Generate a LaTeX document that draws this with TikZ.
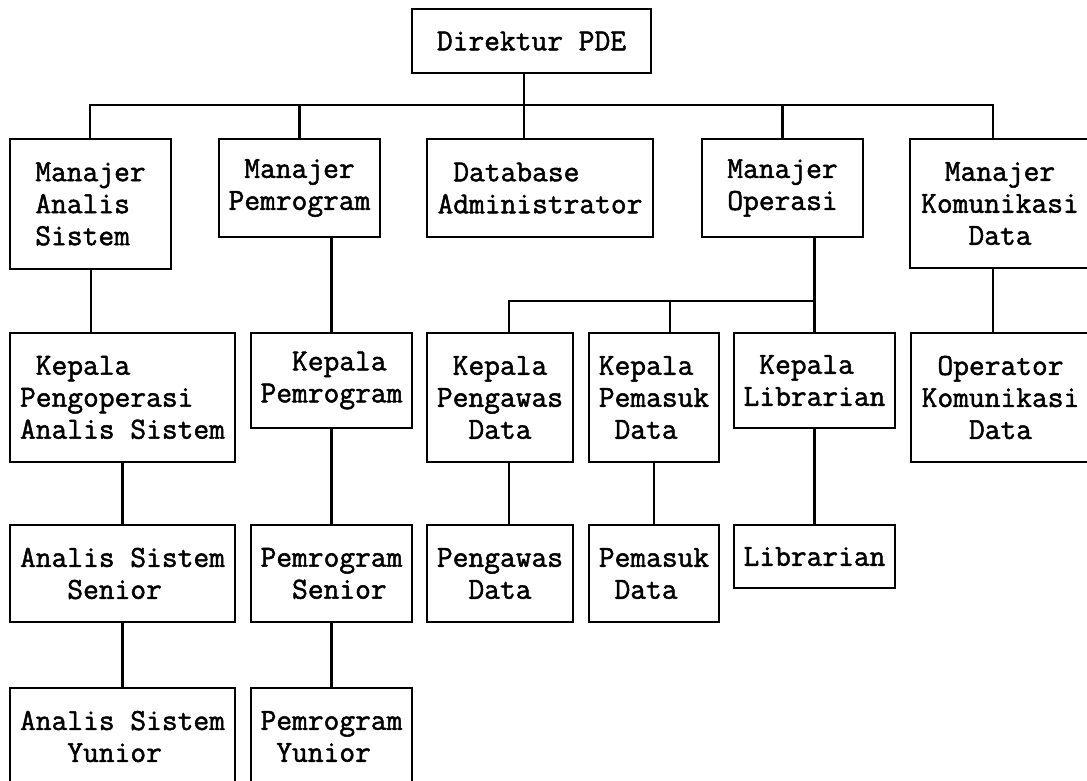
\documentclass[tikz,border=0pt]{standalone}
\usepackage{fontspec}
\newfontfamily\boxfont{Latin Modern Mono}[FakeBold=1.6]
\newcommand{\ind}[1]{\phantom{#1}}
\begin{document}
\begin{tikzpicture}[x=1pt,y=-1pt,
  box/.style={draw, line width=2.6pt, inner sep=0pt,
    font=\boxfont\fontsize{30.6}{32}\selectfont},
  link/.style={line width=2.6pt},
]
\useasboundingbox (0,0) rectangle (1087,780);

% top
\node[box, minimum width=239pt, minimum height=64pt] (dir) at (531.5,41) {Direktur PDE};

% managers
\node[box, align=left,   minimum width=161pt, minimum height=130pt] (mas) at (90.5,204) {Manajer\\Analis\\Sistem};
\node[box, align=center, minimum width=161pt, minimum height=98pt]  (mpr) at (299.5,188) {Manajer\\Pemrogram};
\node[box, align=left,   minimum width=226pt, minimum height=98pt]  (dba) at (540,188) {\ind{x}Database\\Administrator};
\node[box, align=center, minimum width=161pt, minimum height=98pt]  (mop) at (782.5,188) {Manajer\\Operasi};
\node[box, align=center, minimum width=180pt, minimum height=129pt] (mkd) at (1000,203.5) {Manajer\\Komunikasi\\Data};

% heads
\node[box, align=left,   minimum width=225pt, minimum height=129pt] (kpas) at (122.5,397.5) {\ind{x}Kepala\\Pengoperasi\\Analis Sistem};
\node[box, align=left,   minimum width=161pt, minimum height=95pt]  (kpr)  at (331.5,380.5) {\ind{xx}Kepala\\Pemrogram};
\node[box, align=center, minimum width=146pt, minimum height=129pt] (kpw)  at (500,397.5) {Kepala\\Pengawas\\Data};
\node[box, align=left,   minimum width=130pt, minimum height=129pt] (kpm)  at (654,397.5) {Kepala\\Pemasuk\\\ind{x}Data};
\node[box, align=left,   minimum width=161pt, minimum height=95pt]  (klb)  at (814.5,380.5) {\ind{x}Kepala\\Librarian};
\node[box, align=center, minimum width=179pt, minimum height=129pt] (okd)  at (1000.5,397.5) {Operator\\Komunikasi\\Data};

% seniors and staff
\node[box, align=left,   minimum width=225pt, minimum height=97pt] (ass) at (122.5,573.5) {Analis Sistem\\\ind{xxx}Senior};
\node[box, align=left,   minimum width=161pt, minimum height=97pt] (psr) at (331.5,573.5) {Pemrogram\\\ind{xx}Senior};
\node[box, align=center, minimum width=146pt, minimum height=97pt] (pwd) at (500,573.5) {Pengawas\\Data};
\node[box, align=left,   minimum width=130pt, minimum height=97pt] (pmd) at (654,573.5) {Pemasuk\\\ind{x}Data};
\node[box, align=center, minimum width=161pt, minimum height=63pt] (lib) at (814.5,556.5) {Librarian};

% juniors
\node[box, align=left, minimum width=225pt, minimum height=97pt] (asy) at (122.5,736.5) {Analis Sistem\\\ind{xxx}Yunior};
\node[box, align=left, minimum width=161pt, minimum height=97pt] (pyu) at (331.5,736.5) {Pemrogram\\\ind{x}Yunior};

% bus lines and drop points
\coordinate (trunk) at (524,105);
\coordinate (busl) at (90,105);
\coordinate (busr) at (993,105);
\coordinate (asline) at (91,0);
\coordinate (sub) at (509,301);
\coordinate (subm) at (670,301);

\draw[link] (dir.south -| trunk) -- (dba.north -| trunk);
\draw[link] (mas.north -| busl) -- (busl) -- (busr) -- (mkd.north -| busr);
\draw[link] (mpr.north) -- (mpr.north |- busl);
\draw[link] (mop.north) -- (mop.north |- busl);

% analyst column
\draw[link] (mas.south -| asline) -- (kpas.north -| asline);
\draw[link] (kpas.south) -- (ass.north);
\draw[link] (ass.south) -- (asy.north);

% programmer column
\draw[link] (mpr.south -| kpr.north) -- (kpr.north);
\draw[link] (kpr.south) -- (psr.north);
\draw[link] (psr.south) -- (pyu.north);

% operations
\draw[link] (klb.north |- mop.south) -- (klb.north);
\draw[link] (kpw.north -| sub) -- (sub) -- (klb.north |- sub);
\draw[link] (subm) -- (kpm.north -| subm);
\draw[link] (kpw.south -| sub) -- (pwd.north -| sub);
\draw[link] (kpm.south) -- (pmd.north);
\draw[link] (klb.south) -- (lib.north);

% communications
\draw[link] (mkd.south -| busr) -- (okd.north -| busr);
\end{tikzpicture}
\end{document}
